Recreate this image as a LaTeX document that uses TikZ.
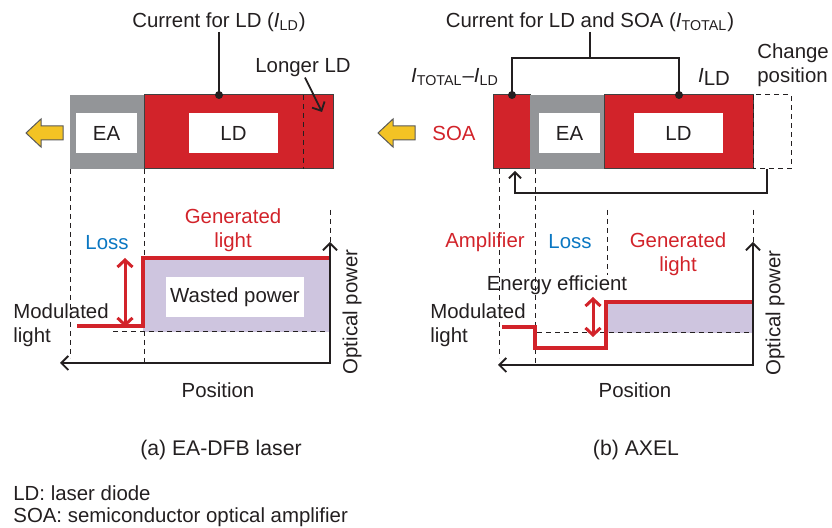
\documentclass[tikz,border=0pt]{standalone}
\usepackage{fontspec}
\setmainfont{Liberation Sans}
\usetikzlibrary{arrows.meta,positioning}
\definecolor{ldred}{HTML}{D2232A}
\definecolor{eagray}{HTML}{939598}
\definecolor{wastefill}{HTML}{CEC5DF}
\definecolor{lossblue}{HTML}{0A77C2}
\definecolor{beamyellow}{HTML}{F3C324}
\definecolor{txtdark}{HTML}{231F20}
\begin{document}
\begin{tikzpicture}[x=0.5pt,y=-0.5pt,font=\fontsize{10.2}{12}\selectfont,
  every node/.style={inner sep=0pt,text=txtdark},
  redlbl/.style={text=ldred,align=center},
  bluelbl/.style={text=lossblue},
  captionlbl/.style={font=\fontsize{10.6}{12}\selectfont},
  whitebox/.style={fill=white,minimum width=#1,minimum height=20pt},
  chip/.style={draw=black!75,line width=0.5pt},
  guide/.style={draw=txtdark,line width=0.5pt,dash pattern=on 2.5pt off 2pt},
  powerline/.style={ldred,line width=2pt},
  axis/.style={txtdark,line width=0.9pt,{Straight Barb[length=3.5pt,width=7pt]}-{Straight Barb[length=3.5pt,width=7pt]}},
  gainarrow/.style={ldred,line width=1.5pt,{Straight Barb[length=3.5pt,width=7.5pt]}-{Straight Barb[length=3.5pt,width=7.5pt]}},
  outarrow/.style={fill=beamyellow,draw=black!65,line width=0.5pt},
  feed/.style={txtdark,line width=0.9pt,-{Straight Barb[length=3pt,width=6pt]}}]
\useasboundingbox (0,0) rectangle (832,528);

% ---------- (a) EA-DFB laser ----------
% Chip sections
\fill[eagray] (70,95) rectangle (144,169);
\filldraw[ldred,chip] (144,95) rectangle (333,169);
\draw[guide] (303,95) -- (303,169);
\node[whitebox=30.5pt] (eaA) at (106.5,133) {EA};
\node[whitebox=44.5pt] (ldA) at (233.5,133) {LD};

% Output light
\foreach \dx in {0,352}
  \filldraw[outarrow,shift={(\dx,0)}] (26,133) -- (41,119) -- (41,126) -- (63,126)
    -- (63,140) -- (41,140) -- (41,147) -- cycle;

% Current feed
\node (curA) at (219,22) {Current for LD (\textit{I}\textsubscript{LD})};
\coordinate (dotA) at (219,95);
\fill[txtdark] (dotA) circle (2pt);
\draw[txtdark,line width=0.6pt] (curA.south) -- (dotA);

% Longer LD
\node (longer) at (303,68) {Longer LD};
\coordinate (longtip) at (322,112);
\draw[feed,-{Straight Barb[length=3.5pt,width=7pt]}] ([xshift=1pt]longer.south) -- (longtip);

% Section guides
\draw[guide] (70,169) -- (70,358);
\draw[guide] (144,169) -- (144,363);
\draw[guide] (330,210) -- (330,245);

% Power profile
\fill[wastefill] (143,258) rectangle (330,332);
\draw[guide] (113,332) -- (330,332);
\draw[powerline] (77,326) -- (143,326) -- (143,258) -- (330,258);
\node[whitebox=69pt] (waste) at (235,297) {Wasted power};
\coordinate (lossT) at (125,258);
\coordinate (lossB) at (125,327);
\draw[gainarrow] (lossT) -- (lossB);

% Axes
\coordinate (yA) at (330,242);
\coordinate (xA) at (60,363);
\draw[axis] (yA) |- (xA);

% Labels
\node[bluelbl] (lossA) at (107,243) {Loss};
\node[redlbl] (genA) at (233,230) {Generated\\light};
\node[align=left,anchor=west] (modA) at (13,325) {Modulated\\light};
\node[rotate=90] (optA) at (352,312) {Optical power};
\node (posA) at (218,390) {Position};
\node[captionlbl] (capA) at (221,450) {(a) EA-DFB laser};

% ---------- (b) AXEL ----------
% Chip sections
\filldraw[ldred,chip] (493,95) rectangle (530,169);
\fill[eagray] (530,95) rectangle (604,169);
\filldraw[ldred,chip] (604,95) rectangle (753,169);
\draw[guide] (753,95) rectangle (791,169);
\node[whitebox=30.5pt] (eaB) at (569.5,133) {EA};
\node[whitebox=44.5pt] (ldB) at (678.5,133) {LD};
\node[text=ldred] (soa) at (454,133) {SOA};

% Current feed
\node (curB) at (590,22) {Current for LD and SOA (\textit{I}\textsubscript{TOTAL})};
\coordinate (brk) at (590,58);
\coordinate (dotS) at (512,95);
\coordinate (dotL) at (679,95);
\fill[txtdark] (dotS) circle (2pt) (dotL) circle (2pt);
\draw[txtdark,line width=0.6pt] (curB.south) -- (brk);
\draw[txtdark,line width=0.6pt] (dotS) -- (dotS |- brk) -- (dotL |- brk) -- (dotL);
\node (isoa) at (455,77) {\textit{I}\textsubscript{TOTAL}--\textit{I}\textsubscript{LD}};
\node (ild) at (714,77) {\textit{I}\raisebox{-0.35ex}{LD}};
\node[align=left,anchor=west] (chg) at (757,65) {Change\\position};

% Change position feedback
\coordinate (dboxB) at (767,169);
\coordinate (soaB) at (515,171);
\draw[feed] (dboxB) -- ++(0,24) -| (soaB);

% Section guides
\draw[guide] (499,169) -- (499,358);
\draw[guide] (535,169) -- (535,363);
\draw[guide] (607,210) -- (607,275);
\draw[guide] (753,210) -- (753,245);

% Power profile
\fill[wastefill] (606,302) rectangle (753,333);
\draw[guide] (537,333) -- (753,333);
\draw[powerline] (502,327) -- (535,327) -- (535,348) -- (606,348) -- (606,302) -- (753,302);
\coordinate (effT) at (593,297);
\coordinate (effB) at (593,337);
\draw[gainarrow] (effT) -- (effB);

% Axes
\coordinate (yB) at (753,242);
\coordinate (xB) at (498,365);
\draw[axis] (yB) |- (xB);

% Labels
\node[redlbl] (ampB) at (485,242) {Amplifier};
\node[bluelbl] (lossB) at (570,242) {Loss};
\node[redlbl] (genB) at (678,254) {Generated\\light};
\node (eff) at (557,285) {Energy efficient};
\node[align=left,anchor=west] (modB) at (430,325) {Modulated\\light};
\node[rotate=90] (optB) at (775,313) {Optical power};
\node (posB) at (635,390) {Position};
\node[captionlbl] (capB) at (636,450) {(b) AXEL};

% Legend
\node[anchor=west] (keyLD) at (13,493) {LD: laser diode};
\node[anchor=west] (keySOA) at (13,517) {SOA: semiconductor optical amplifier};
\end{tikzpicture}
\end{document}
